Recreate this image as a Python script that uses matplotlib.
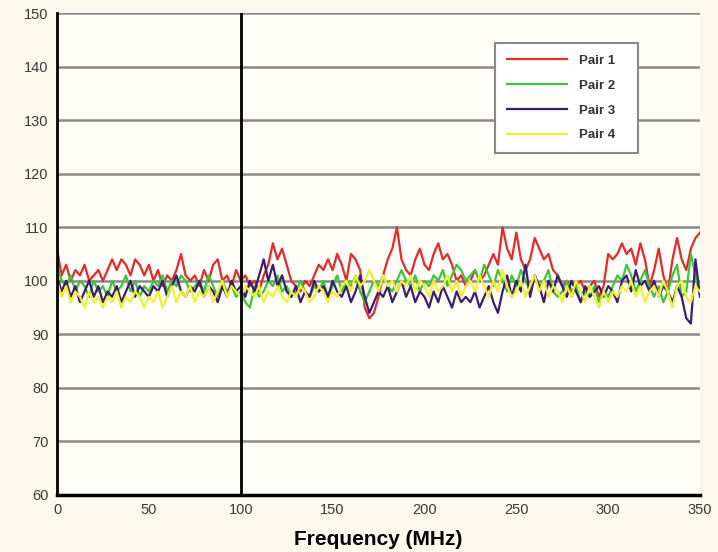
import numpy as np
import matplotlib
matplotlib.use("Agg")
import matplotlib.pyplot as plt

plt.rcParams['font.family'] = ['Liberation Sans', 'DejaVu Sans']

# frequency axis, one sample every 2.5 MHz
freq = np.arange(0, 350.1, 2.5)

pair1 = [106, 101, 103, 100, 102, 101, 103, 100, 101, 102,
         100, 102, 104, 102, 104, 103, 101, 104, 103, 101,
         103, 100, 102, 99, 101, 100, 102, 105, 101, 100,
         101, 99, 102, 100, 103, 104, 100, 101, 99, 102,
         100, 101, 99, 100, 98, 101, 103, 107, 104, 106,
         103, 100, 99, 98, 100, 99, 101, 103, 102, 104,
         102, 105, 103, 100, 105, 104, 102, 95, 93, 94,
         97, 101, 104, 106, 110, 104, 102, 101, 104, 106,
         103, 102, 105, 107, 104, 105, 103, 100, 101, 99,
         100, 102, 100, 101, 103, 105, 103, 110, 106, 104,
         109, 104, 102, 104, 108, 106, 104, 105, 102, 101,
         99, 100, 98, 99, 100, 98, 99, 100, 97, 99,
         105, 104, 105, 107, 105, 106, 103, 107, 104, 99,
         102, 106, 101, 98, 104, 108, 104, 102, 106, 108,
         109]

pair2 = [103, 100, 99, 101, 98, 100, 99, 97, 100, 98,
         99, 97, 100, 98, 99, 101, 98, 100, 97, 99,
         98, 100, 99, 101, 98, 100, 99, 101, 100, 98,
         99, 100, 98, 101, 99, 97, 100, 98, 99, 97,
         98, 96, 95, 99, 97, 98, 100, 99, 101, 98,
         99, 97, 98, 100, 98, 97, 99, 98, 100, 97,
         99, 101, 98, 100, 99, 101, 98, 96, 98, 100,
         99, 101, 99, 98, 100, 102, 100, 99, 101, 98,
         100, 99, 101, 100, 102, 99, 101, 103, 102, 100,
         101, 102, 100, 103, 101, 99, 102, 100, 98, 101,
         99, 102, 100, 98, 101, 99, 100, 102, 98, 97,
         98, 100, 97, 99, 96, 98, 97, 99, 96, 98,
         97, 99, 101, 100, 103, 101, 98, 100, 102, 99,
         97, 99, 96, 98, 101, 103, 97, 98, 105, 101,
         97]

pair3 = [101, 98, 100, 97, 99, 96, 98, 100, 97, 99,
         96, 98, 97, 99, 96, 98, 100, 97, 99, 98,
         97, 99, 98, 100, 97, 99, 101, 98, 97, 99,
         98, 100, 97, 99, 98, 96, 99, 97, 100, 98,
         99, 97, 100, 98, 101, 104, 100, 103, 99, 101,
         98, 97, 99, 96, 98, 97, 100, 98, 99, 97,
         100, 98, 97, 99, 96, 98, 101, 97, 94, 96,
         98, 97, 99, 96, 98, 100, 97, 99, 96, 98,
         97, 95, 98, 96, 99, 97, 95, 98, 96, 97,
         96, 98, 95, 97, 99, 96, 94, 98, 101, 97,
         100, 98, 103, 97, 101, 99, 96, 100, 98, 101,
         99, 97, 100, 98, 96, 99, 97, 98, 99, 97,
         99, 98, 96, 100, 101, 98, 102, 99, 100, 98,
         100, 97, 99, 98, 96, 99, 97, 93, 92, 104,
         97]

pair4 = [100, 97, 99, 96, 98, 97, 95, 98, 96, 97,
         95, 97, 96, 98, 95, 97, 96, 98, 97, 95,
         97, 96, 98, 95, 97, 99, 96, 98, 97, 99,
         96, 98, 97, 99, 96, 98, 100, 97, 99, 98,
         97, 99, 98, 97, 99, 96, 98, 97, 99, 97,
         96, 98, 97, 99, 98, 96, 97, 99, 98, 96,
         98, 97, 99, 100, 98, 101, 99, 100, 102, 100,
         98, 101, 99, 100, 98, 100, 99, 101, 98, 100,
         99, 97, 100, 98, 99, 101, 98, 100, 97, 99,
         100, 98, 101, 99, 97, 100, 98, 102, 99, 97,
         98, 100, 97, 99, 101, 98, 100, 97, 99, 98,
         96, 99, 97, 100, 98, 96, 99, 97, 95, 98,
         96, 98, 97, 99, 98, 100, 97, 99, 96, 98,
         99, 97, 100, 98, 95, 99, 100, 97, 96, 99,
         98]

labels = ["Pair 1", "Pair 2", "Pair 3", "Pair 4"]
colors = ["#e42a2a", "#3cc43c", "#3d1d6e", "#f0f032"]

fig = plt.figure(figsize=(7.18, 5.52), dpi=100, facecolor="#fcf8ee")
ax = fig.add_axes([0.0794, 0.1033, 0.8956, 0.8731])
ax.set_facecolor("#fffdf7")

for ys, lab, c in zip([pair1, pair2, pair3, pair4], labels, colors):
    ax.plot(freq, ys, color=c, lw=1.6, label=lab)

ax.set_xlim(0, 350)
ax.set_ylim(60, 150)
ax.set_xticks(np.arange(0, 351, 50))
ax.set_yticks(np.arange(60, 151, 10))
ax.yaxis.grid(True, color="#8a8a86", lw=1.8)
ax.set_axisbelow(True)
ax.axvline(100, color="black", lw=2, zorder=5)

for s in ["top", "right"]:
    ax.spines[s].set_visible(False)
ax.spines["left"].set_linewidth(2)
ax.spines["bottom"].set_linewidth(2.5)
ax.tick_params(length=0, labelsize=10.5, labelcolor="#3a3a3a", pad=6)

ax.set_xlabel("Frequency (MHz)", fontsize=15, fontweight="bold", labelpad=9)

leg = ax.legend(loc="upper left", bbox_to_anchor=(0.681, 0.938), borderaxespad=0,
                fancybox=False, framealpha=1, edgecolor="#888888",
                handlelength=4.6, labelspacing=0.95, borderpad=0.9,
                handletextpad=0.9, prop={"size": 9.5, "weight": "bold"})
leg.get_frame().set_linewidth(1.5)
for t in leg.get_texts():
    t.set_color("#333333")
    t.set_text(t.get_text() + "   ")

fig.savefig("out.png", dpi=100, facecolor=fig.get_facecolor())
